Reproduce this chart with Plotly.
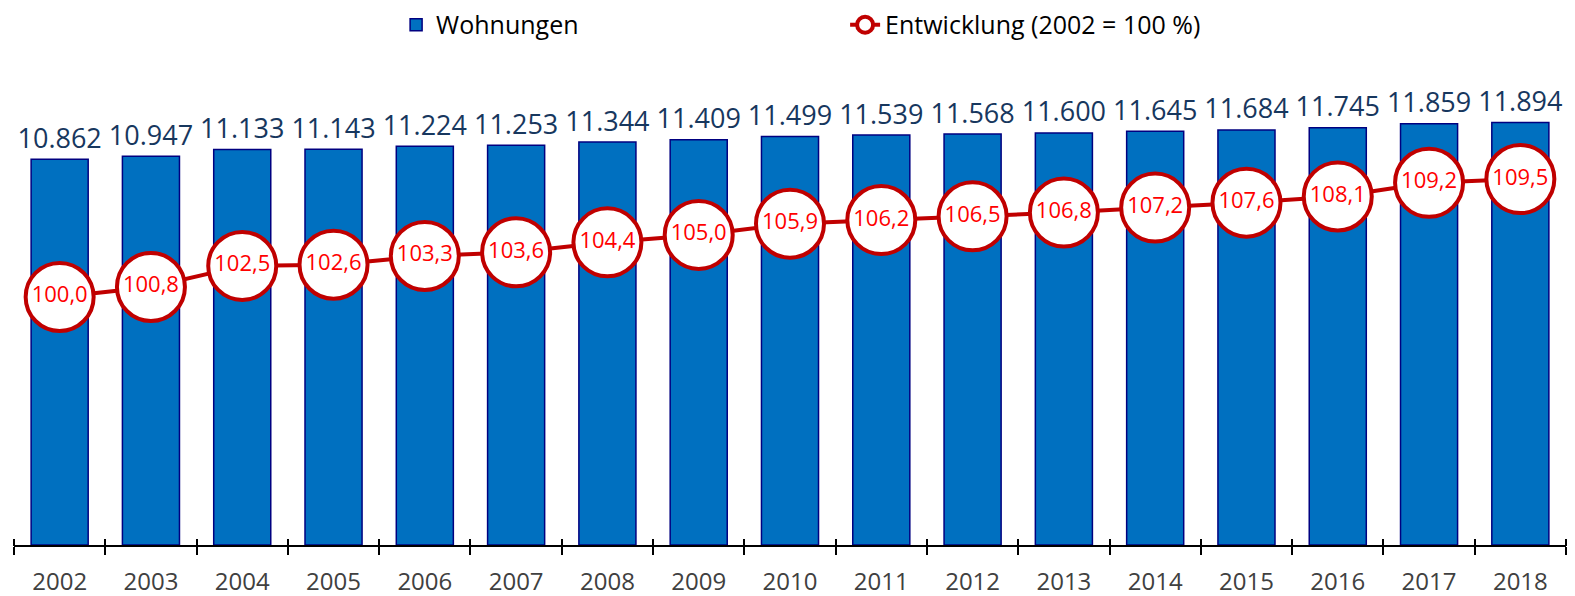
import plotly.graph_objects as go

years = [str(y) for y in range(2002, 2019)]
wohnungen = [10862, 10947, 11133, 11143, 11224, 11253, 11344, 11409, 11499,
             11539, 11568, 11600, 11645, 11684, 11745, 11859, 11894]
entwicklung = [100.0, 100.8, 102.5, 102.6, 103.3, 103.6, 104.4, 105.0, 105.9,
               106.2, 106.5, 106.8, 107.2, 107.6, 108.1, 109.2, 109.5]

FONT = "Open Sans, Noto Sans, sans-serif"

fig = go.Figure()
fig.add_trace(go.Bar(
    x=years, y=wohnungen, name="Wohnungen",
    marker=dict(color="#0070C0", line=dict(color="#000080", width=1.5)),
    xaxis="x", yaxis="y",
))
# value labels above the bars
fig.add_trace(go.Scatter(
    x=years, y=wohnungen, mode="markers+text", showlegend=False, hoverinfo="skip",
    marker=dict(size=6, opacity=0),
    texttemplate="%{y:,}", textposition="top center", cliponaxis=False,
    textfont=dict(family=FONT, size=27, color="#17375E"),
    xaxis="x", yaxis="y",
))
fig.add_trace(go.Scatter(
    x=years, y=entwicklung, name="Entwicklung (2002 = 100 %)",
    mode="lines+markers+text",
    line=dict(color="#C00000", width=4),
    marker=dict(size=68, color="white", line=dict(color="#C00000", width=4)),
    texttemplate="%{y:.1f}", textposition="middle center", cliponaxis=False,
    textfont=dict(family=FONT, size=22, color="#FF0000"),
    xaxis="x2", yaxis="y2",
))

fig.update_layout(
    width=1567, height=588,
    margin=dict(l=6, r=9, t=52, b=51, autoexpand=False),
    separators=",.",
    paper_bgcolor="white", plot_bgcolor="white",
    font=dict(family=FONT, color="black"),
    bargap=0.375,
    showlegend=True,
    legend=dict(orientation="h", x=0.2462, xanchor="left", y=1.0722, yanchor="middle",
                font=dict(family=FONT, size=25, color="black"),
                entrywidth=404, entrywidthmode="pixels", traceorder="normal",
                bgcolor="rgba(0,0,0,0)"),
    xaxis=dict(type="category", range=[-0.5, 16.5], tickson="boundaries",
               ticks="outside", ticklen=8, tickwidth=2, tickcolor="black",
               showline=True, linecolor="black", linewidth=2, showgrid=False,
               tickfont=dict(family=FONT, size=24, color="#404040"),
               ticklabelstandoff=14, automargin=False),
    xaxis2=dict(type="category", range=[-0.5, 16.5], overlaying="x",
                anchor="free", position=0.01443, side="bottom", tickson="boundaries",
                ticks="outside", ticklen=7, tickwidth=2, tickcolor="black",
                showticklabels=False, showline=False, showgrid=False,
                automargin=False),
    yaxis=dict(range=[0, 13653], visible=False, showgrid=False, automargin=False),
    yaxis2=dict(range=[80, 119.1], overlaying="y", visible=False, showgrid=False,
                automargin=False),
)

fig.write_html("out.html")
